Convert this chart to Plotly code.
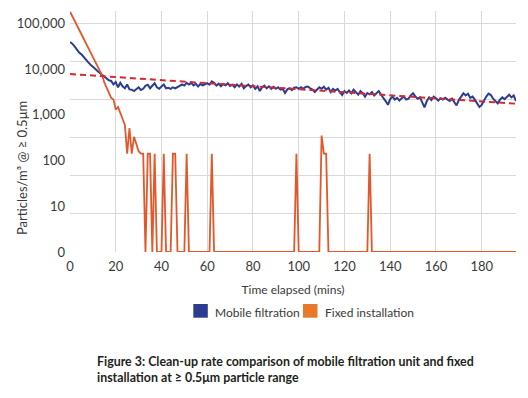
import plotly.graph_objects as go

# ---- data ----
time_min = list(range(0, 196))

mobile_filtration = [
    39000, 36000, 31500, 26500, 23000, 21000, 18000, 16000, 14000, 12500,
    11500, 10200, 9100, 8300, 7400, 6600, 6000, 5700, 5500, 4600,
    5200, 4000, 5000, 4200, 3800, 4600, 3600, 3550, 3300, 3650,
    4000, 3500, 3700, 4300, 4550, 3800, 4250, 4900, 4000, 3700,
    4150, 4600, 3800, 3900, 3700, 4000, 3800, 4000, 4200, 4600,
    4350, 5000, 4600, 5000, 4400, 4800, 4150, 4700, 4400, 4600,
    4900, 4550, 5400, 5000, 4350, 4800, 4200, 4700, 4400, 4900,
    4250, 4550, 4000, 4600, 4150, 4750, 3800, 4250, 4600, 4000,
    4400, 3700, 4200, 3300, 4000, 4350, 3800, 4200, 3700, 4100,
    3700, 4000, 3550, 3700, 3000, 3600, 3800, 3450, 3900, 4000,
    3700, 4000, 3700, 4050, 4150, 3800, 3550, 3150, 3600, 4000,
    3700, 4100, 3550, 3900, 3150, 3700, 3400, 3700, 3100, 2700,
    3300, 3000, 3400, 2950, 3550, 3150, 2750, 3300, 2950, 2500,
    3000, 2800, 3150, 2650, 2950, 3300, 2750, 2400, 2000, 1650,
    2200, 2500, 2150, 2350, 2050, 2300, 2500, 2150, 2250, 2650,
    2950, 2500, 2250, 2400, 1900, 1450, 2000, 2400, 2100, 2500,
    2300, 2050, 2300, 2150, 2350, 2200, 2000, 2250, 1850, 1600,
    2100, 2500, 2950, 2650, 2900, 2350, 2500, 2150, 1750, 1480,
    1650, 2100, 2500, 2900, 2700, 2250, 2000, 1780, 2150, 2400,
    2200, 2500, 2750, 2400, 2650, 2000,
]

fixed_installation = [
    180000, 145000, 115000, 92000, 73000, 58000, 46000, 36500, 29000, 23000,
    18500, 14700, 11700, 9300, 7400, 5100, 3900, 2900, 2350, 2170,
    1300, 1480, 1100, 850, 600, 141, 510, 141, 330, 230,
    160, 141, 141, 0, 141, 141, 0, 141, 0, 0,
    0, 141, 0, 0, 0, 141, 141, 0, 0, 0,
    0, 141, 0, 0, 0, 0, 0, 0, 0, 0,
    0, 0, 141, 0, 0, 0, 0, 0, 0, 0,
    0, 0, 0, 0, 0, 0, 0, 0, 0, 0,
    0, 0, 0, 0, 0, 0, 0, 0, 0, 0,
    0, 0, 0, 0, 0, 0, 0, 0, 0, 141,
    0, 0, 0, 0, 0, 0, 0, 0, 0, 0,
    353, 141, 141, 0, 0, 0, 0, 0, 0, 0,
    0, 0, 0, 0, 0, 0, 0, 0, 0, 0,
    0, 141, 0, 0, 0, 0, 0, 0, 0, 0,
    0, 0, 0, 0, 0, 0, 0, 0, 0, 0,
    0, 0, 0, 0, 0, 0, 0, 0, 0, 0,
    0, 0, 0, 0, 0, 0, 0, 0, 0, 0,
    0, 0, 0, 0, 0, 0, 0, 0, 0, 0,
    0, 0, 0, 0, 0, 0, 0, 0, 0, 0,
    0, 0, 0, 0, 0, 0,
]

trend_time = [0, 195]
trend_values = [7800, 1750]

y_tick_values = [1, 10, 100, 1000, 10000, 100000]
y_tick_labels = ["0", "10", "100", "1,000", "10,000", "100,000"]
x_tick_values = [0, 20, 40, 60, 80, 100, 120, 140, 160, 180]

series_names = ["Mobile filtration", "Fixed installation"]

# ---- style ----
BLUE = "#2c3d8f"
ORANGE_LINE = "#e2582a"
ORANGE_KEY = "#e8792a"
RED = "#d6282e"
GRID = "#d9d9d9"
TEXT = "#3a3a3a"
FONT = "Lato"

# figure geometry (the page body adds an 8px offset)
W, H = 520, 390
ML, MR, MT, MB = 62, 12, 3, 146
PW, PH = W - ML - MR, H - MT - MB


def px(xp):
    return (xp - ML) / PW


def py(yp):
    return (H - MB - yp) / PH


# zero counts sit on the "0" baseline of the log axis (value 1)
fixed_plot = [v if v > 0 else 1 for v in fixed_installation]

fig = go.Figure()
fig.add_trace(go.Scatter(x=time_min, y=mobile_filtration, mode="lines",
                         line=dict(color=BLUE, width=2), showlegend=False,
                         name=series_names[0]))
fig.add_trace(go.Scatter(x=time_min, y=fixed_plot, mode="lines",
                         line=dict(color=ORANGE_LINE, width=1.8), showlegend=False,
                         name=series_names[1]))
fig.add_trace(go.Scatter(x=trend_time, y=trend_values, mode="lines",
                         line=dict(color=RED, width=2, dash="6px,4px"),
                         showlegend=False, name="Trend"))

# grid lines of the original are spaced evenly over 6 bands between 1 and 100,000
grid_vals = [10 ** (5 * k / 6) for k in range(7)]

# legend (square swatches + labels)
swatch_colors = [BLUE, ORANGE_KEY]
swatch_left = [185.3, 295.0]
shapes = []
annotations = []
for name, col, x0 in zip(series_names, swatch_colors, swatch_left):
    shapes.append(dict(type="rect", xref="paper", yref="paper",
                       x0=px(x0), x1=px(x0 + 14.5), y0=py(309.7), y1=py(296),
                       fillcolor=col, line=dict(width=0)))
    annotations.append(dict(text=name, xref="paper", yref="paper",
                            x=px(x0 + 19.5), y=py(304), xanchor="left", yanchor="middle",
                            showarrow=False, font=dict(size=12, color=TEXT)))

annotations += [
    dict(text="Particles/m³ @ ≥ 0.5μm", textangle=-90, xref="paper", yref="paper",
         x=px(14), y=py(160), xanchor="center", yanchor="middle", showarrow=False,
         font=dict(size=13, color=TEXT)),
    dict(text="<b>Figure 3: Clean-up rate comparison of mobile filtration unit and fixed<br>"
              "installation at ≥ 0.5μm particle range</b>",
         xref="paper", yref="paper", x=px(87), y=py(361), xanchor="left",
         yanchor="middle", align="left", showarrow=False,
         font=dict(size=12.4, color="#231f20")),
]

fig.update_layout(
    width=W, height=H,
    margin=dict(l=ML, r=MR, t=MT, b=MB),
    paper_bgcolor="white", plot_bgcolor="white",
    font=dict(family=FONT, size=13, color=TEXT),
    showlegend=False,
    xaxis=dict(range=[0, 195], tickmode="array", tickvals=x_tick_values,
               showgrid=True, gridcolor=GRID, gridwidth=1, zeroline=False,
               showline=False, ticks="", tickfont=dict(size=13, color=TEXT),
               ticklabelstandoff=5,
               title=dict(text="Time elapsed (mins)", font=dict(size=12, color=TEXT),
                          standoff=12)),
    yaxis=dict(type="log", range=[0, 5.27], tickmode="array",
               tickvals=y_tick_values, ticktext=y_tick_labels,
               showgrid=False, zeroline=False, showline=False, ticks="",
               tickfont=dict(size=13, color=TEXT), ticklabelstandoff=4,
               minor=dict(tickmode="array", tickvals=grid_vals, showgrid=True,
                          gridcolor=GRID, gridwidth=1, ticklen=0)),
    shapes=shapes,
    annotations=annotations,
)

fig.write_html("out.html")
